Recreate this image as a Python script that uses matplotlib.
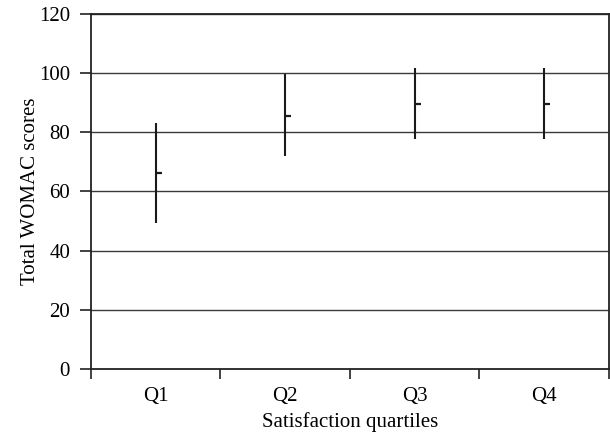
import matplotlib
matplotlib.use("Agg")
import matplotlib.pyplot as plt
from matplotlib.ticker import FixedLocator, NullFormatter

categories = ["Q1", "Q2", "Q3", "Q4"]
low = [49.4, 72.0, 77.9, 77.9]
high = [83.3, 99.7, 101.7, 101.7]
mean = [66.3, 85.5, 89.6, 89.6]

plt.rcParams['font.family'] = ['Liberation Serif', 'DejaVu Serif']

fig = plt.figure(figsize=(6.1, 4.4), dpi=100)
ax = fig.add_axes([0.149, 0.1614, 0.849, 0.8068])

pos = list(range(1, len(categories) + 1))
ax.set_ylim(0, 120)
ax.set_xlim(0.5, len(categories) + 0.5)
ax.set_yticks([0, 20, 40, 60, 80, 100, 120])
for y in [20, 40, 60, 80, 100, 120]:
    ax.axhline(y, color='#3a3a3a', lw=1.0, zorder=1)

ax.vlines(pos, low, high, color='#1a1a1a', lw=1.5, zorder=3)
ax.plot(pos, mean, linestyle='none', marker=1, markersize=4, markeredgewidth=1.6,
        color='#1a1a1a', zorder=4)

ax.xaxis.set_major_locator(FixedLocator([p - 0.5 for p in pos] + [pos[-1] + 0.5]))
ax.xaxis.set_major_formatter(NullFormatter())
ax.xaxis.set_minor_locator(FixedLocator(pos))
ax.set_xticklabels(categories, minor=True)
ax.tick_params(axis='x', which='minor', length=0, pad=13, labelsize=15)
ax.tick_params(axis='x', which='major', direction='out', length=7, width=1.2, color='#222222')
ax.tick_params(axis='y', direction='out', length=8, width=1.2, color='#222222', labelsize=15, pad=7)

for s in ax.spines.values():
    s.set_linewidth(1.3)
    s.set_color('#222222')

ax.set_xlabel("Satisfaction quartiles", fontsize=15, labelpad=4)
ax.set_ylabel("Total WOMAC scores", fontsize=15, labelpad=-1)

fig.savefig("out.png", dpi=100)
